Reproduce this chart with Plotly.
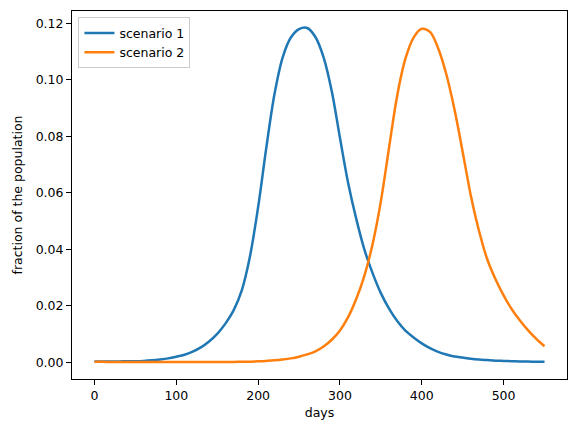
import plotly.graph_objects as go

# values, every 10 days
days = list(range(0, 551, 10))

frac_s1 = [0.0003, 0.0003, 0.0003, 0.0003, 0.0004, 0.0004, 0.0005, 0.0007, 0.0010, 0.0014,
           0.0020, 0.0027, 0.0038, 0.0053, 0.0074, 0.0101, 0.0137, 0.0184, 0.0255, 0.0375,
           0.0550, 0.0760, 0.0950, 0.1080, 0.1150, 0.1180, 0.1184, 0.1152, 0.1080, 0.0960,
           0.0795, 0.0635, 0.0507, 0.0398, 0.0315, 0.0245, 0.0190, 0.0146, 0.0112, 0.0088,
           0.0067, 0.0050, 0.0037, 0.0028, 0.0021, 0.0017, 0.0013, 0.0010, 0.0008, 0.0006,
           0.0005, 0.0004, 0.0003, 0.0003, 0.0002, 0.0002]

frac_s2 = [0.0002, 0.0002, 0.0001, 0.0001, 0.0001, 0.0001, 0.0001, 0.0001, 0.0001, 0.0001,
           0.0001, 0.0001, 0.0001, 0.0001, 0.0001, 0.0001, 0.0001, 0.00015, 0.0002, 0.00025,
           0.00035, 0.0005, 0.0007, 0.0010, 0.0014, 0.0020, 0.0028, 0.0039, 0.0056, 0.0080,
           0.0113, 0.0160, 0.0225, 0.0308, 0.0420, 0.0570, 0.0760, 0.0945, 0.1075, 0.1150,
           0.1181, 0.1170, 0.1112, 0.1020, 0.0895, 0.0745, 0.0590, 0.0465, 0.0365, 0.0295,
           0.0237, 0.0188, 0.0148, 0.0113, 0.0083, 0.0057]

FONT = "DejaVu Sans"

fig = go.Figure()
fig.add_trace(go.Scatter(x=days, y=frac_s1, mode="lines", name="scenario 1",
                         line=dict(color="#1f77b4", width=2.5, shape="spline", smoothing=1)))
fig.add_trace(go.Scatter(x=days, y=frac_s2, mode="lines", name="scenario 2",
                         line=dict(color="#ff7f0e", width=2.5, shape="spline", smoothing=1)))

axis_style = dict(
    showline=True, linecolor="black", linewidth=1, mirror=True,
    ticks="outside", ticklen=5, tickwidth=1, tickcolor="black",
    showgrid=False, zeroline=False, automargin=False,
    tickfont=dict(family=FONT, size=12.5, color="black"),
)

fig.update_xaxes(range=[-27.5, 577.5], tickvals=[0, 100, 200, 300, 400, 500],
                 title=dict(text="days", font=dict(family=FONT, size=12.5, color="black"), standoff=6),
                 **axis_style)
fig.update_yaxes(range=[-0.0059, 0.1244], tickvals=[0, 0.02, 0.04, 0.06, 0.08, 0.10, 0.12],
                 tickformat=".2f",
                 title=dict(text="fraction of the population",
                            font=dict(family=FONT, size=12.5, color="black"), standoff=10),
                 **axis_style)

# the page body adds an 8px offset, so the figure is 8px smaller than the window
fig.update_layout(
    width=568, height=425,
    margin=dict(l=64, r=9, t=3, b=54),
    plot_bgcolor="white", paper_bgcolor="white",
    font=dict(family=FONT, size=12.5, color="black"),
    legend=dict(x=0.013, y=0.983, xanchor="left", yanchor="top",
                bgcolor="rgba(255,255,255,0.8)", bordercolor="#cccccc", borderwidth=1,
                itemwidth=30, font=dict(family=FONT, size=12.5)),
    showlegend=True,
)

fig.write_html("out.html")
